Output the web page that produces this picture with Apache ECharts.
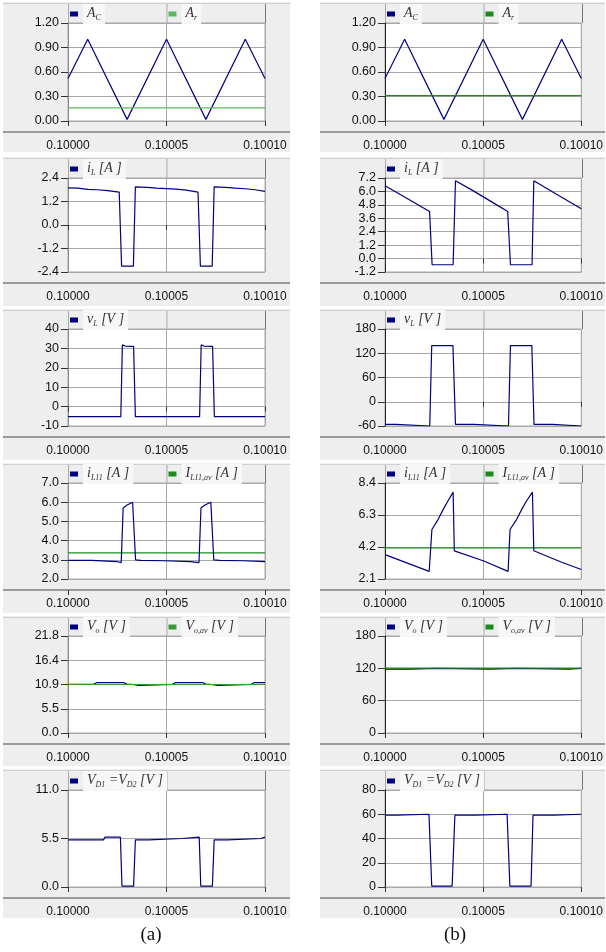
<!DOCTYPE html>
<html><head><meta charset="utf-8">
<script src="https://cdn.jsdelivr.net/npm/echarts/dist/echarts.min.js"></script>
<style>html,body{margin:0;padding:0;background:#fff;}#c{width:606px;height:952px;}</style>
</head><body><div id="c"></div>
<script>
// ---- x axis: time in µs after 0.1 s ----
const xTickLabels = ['0.10000','0.10005','0.10010'];

// ---- y tick labels per panel ----
const yTicks_a = [
  ['0.00','0.30','0.60','0.90','1.20'],
  ['-2.4','-1.2','0.0','1.2','2.4'],
  ['-10','0','10','20','30','40'],
  ['2.0','3.0','4.0','5.0','6.0','7.0'],
  ['0.0','5.5','10.9','16.4','21.8'],
  ['0.0','5.5','11.0']
];
const yTicks_b = [
  ['0.00','0.30','0.60','0.90','1.20'],
  ['-1.2','0.0','1.2','2.4','3.6','4.8','6.0','7.2'],
  ['-60','0','60','120','180'],
  ['2.1','4.2','6.3','8.4'],
  ['0','60','120','180'],
  ['0','20','40','60','80']
];

// ---- column (a) data ----
const t_AC_a = [0,10,30,50,70,90,100];
const AC_a   = [0.52,1.00,0.02,1.00,0.02,1.00,0.52];
const t_Ar_a = [0,100];
const Ar_a   = [0.16,0.16];
const t_iL_a = [0,5,10,15,20,26,27.2,33.2,34.2,40,45,50,55,60,66,67.2,73.2,74.2,80,85,90,95,100];
const iL_a   = [1.90,1.88,1.82,1.80,1.76,1.68,-2.1,-2.1,1.95,1.92,1.88,1.86,1.83,1.78,1.68,-2.1,-2.1,1.95,1.92,1.88,1.85,1.80,1.72];
const t_vL_a = [0,26.8,27.6,29,33.3,34.2,66.8,67.6,69,73.4,74.3,100];
const vL_a   = [-5.2,-5.2,31.8,31.2,31,-5.2,-5.2,31.8,31.2,31,-5.2,-5.2];
const t_iL11_a = [0,12,12.8,25,25.5,27,28,30,32.8,34.3,37,49,49.8,62,62.5,66.5,67.5,69.5,72.5,74,77,89,89.8,100];
const iL11_a   = [2.97,2.97,2.9,2.9,2.85,2.85,5.7,5.85,6.0,3.0,2.97,2.95,2.9,2.9,2.85,2.85,5.7,5.85,6.0,3.0,2.97,2.95,2.9,2.9];
const t_IL11av_a = [0,100];
const IL11av_a   = [3.36,3.36];
const t_Vo_a = [0,13,14.5,28.5,30,32,33,36,37,53,54.5,68.5,70,72,73,76,77,93,94.5,100];
const Vo_a   = [10.95,10.95,11.3,11.3,10.95,10.95,10.7,10.7,10.95,10.95,11.3,11.3,10.95,10.95,10.7,10.7,10.95,10.95,11.3,11.3];
const t_Voav_a = [0,100];
const Voav_a   = [10.9,10.9];
const t_VD_a = [0,18,18.8,26.6,27.4,33.3,34.2,41,41.8,58,58.8,66.6,67.4,73.3,74.2,81,81.8,98,99,100];
const VD_a   = [5.35,5.35,5.65,5.65,0.1,0.1,5.35,5.35,5.5,5.5,5.65,5.65,0.1,0.1,5.35,5.35,5.5,5.5,5.65,5.65];

// ---- column (b) data ----
const t_AC_b = [0,10,30,50,70,90,100];
const AC_b   = [0.52,1.00,0.02,1.00,0.02,1.00,0.52];
const t_Ar_b = [0,100];
const Ar_b   = [0.31,0.31];
const t_iL_b = [0,10,22.7,24,34.7,35.9,45,55,62.5,63.9,74.9,75.8,85,100];
const iL_b   = [6.5,5.5,4.2,-0.55,-0.55,6.95,6.05,5.0,4.2,-0.55,-0.55,6.95,6.0,4.45];
const t_vL_b = [0,5.5,6.5,22.8,23.8,34.6,35.9,45.3,46.3,62.9,63.9,74.8,75.9,85.3,86.3,100];
const vL_b   = [-56,-56,-60,-60,139,139,-56,-56,-60,-60,139,139,-56,-56,-60,-60];
const t_iL11_b = [0,22.5,23.9,27,30,32,34.7,35.3,50,62.7,63.7,67,70,72,75.1,75.8,90,100];
const iL11_b   = [3.7,2.6,5.35,6.0,6.75,7.2,7.8,3.95,3.3,2.6,5.35,6.0,6.75,7.2,7.8,3.95,3.2,2.72];
const t_IL11av_b = [0,100];
const IL11av_b   = [4.14,4.14];
const t_Vo_b = [0,13.5,14.5,26,27,53.5,54.5,66.5,67.5,93.5,94.5,100];
const Vo_b   = [118.5,118.5,120,120,118.5,118.5,120,120,118.5,118.5,120,120];
const t_Voav_b = [0,100];
const Voav_b   = [120.3,120.3];
const t_VD_b = [0,6,6.8,22.4,23.8,34.2,35.6,46,46.8,62.2,63.6,74.4,75.4,86,86.8,100];
const VD_b   = [59.2,59.2,60,60,0.8,0.8,59.2,59.2,60,60,0.8,0.8,59.2,59.2,60,60];

// ---- layout (styles only) ----
const COL = [
  {left:68, width:197, panelX:3, panelW:287, axisColor:'#8a8a8a'},
  {left:385, width:197, panelX:320, panelW:285, axisColor:'#222'}
];
const ROW = [
  {panelTop:2, panelBot:152, top:23, h:98},
  {panelTop:157, panelBot:306, top:178, h:94},
  {panelTop:309, panelBot:460, top:329, h:97},
  {panelTop:463, panelBot:613, top:483, h:96},
  {panelTop:616, panelBot:766, top:636, h:97},
  {panelTop:769, panelBot:918, top:790, h:97}
];
const X_OFFSET = 11;
const NAVY = '#000080', GREEN = '#1e8a1e', LGREEN = '#5cb85c';

const labelRich = {
  'A_C': '{m|A}{s|C}',
  'A_r': '{m|A}{s|r}',
  'i_L': '{m|i}{s|L}{m| [A ]}',
  'v_L': '{m|v}{s|L}{m| [V ]}',
  'i_L11': '{m|i}{s|L11}{m| [A ]}',
  'I_L11av': '{m|I}{s|L11,av}{m| [A ]}',
  'V_o': '{m|V}{s|o}{m| [V ]}',
  'V_oav': '{m|V}{s|o,av}{m| [V ]}',
  'V_D': '{m|V}{s|D1}{m| =V}{s|D2}{m| [V ]}'
};

// [key, col, row, t, v, color, legendSlot]
const seriesSpec = [
  ['A_C',0,0,t_AC_a,AC_a,NAVY,0], ['A_r',0,0,t_Ar_a,Ar_a,LGREEN,1],
  ['i_L',0,1,t_iL_a,iL_a,NAVY,0],
  ['v_L',0,2,t_vL_a,vL_a,NAVY,0],
  ['I_L11av',0,3,t_IL11av_a,IL11av_a,GREEN,1], ['i_L11',0,3,t_iL11_a,iL11_a,NAVY,0],
  ['V_o',0,4,t_Vo_a,Vo_a,NAVY,0], ['V_oav',0,4,t_Voav_a,Voav_a,'#3a9a3a',1],
  ['V_D',0,5,t_VD_a,VD_a,NAVY,0],
  ['A_C',1,0,t_AC_b,AC_b,NAVY,0], ['A_r',1,0,t_Ar_b,Ar_b,GREEN,1],
  ['i_L',1,1,t_iL_b,iL_b,NAVY,0],
  ['v_L',1,2,t_vL_b,vL_b,NAVY,0],
  ['I_L11av',1,3,t_IL11av_b,IL11av_b,GREEN,1], ['i_L11',1,3,t_iL11_b,iL11_b,NAVY,0],
  ['V_o',1,4,t_Vo_b,Vo_b,NAVY,0], ['V_oav',1,4,t_Voav_b,Voav_b,GREEN,1],
  ['V_D',1,5,t_VD_b,VD_b,NAVY,0]
];

const grids=[], xAxes=[], yAxes=[], series=[], legends=[], gfx=[];
const richStyles = {
  m:{fontFamily:'Liberation Serif', fontStyle:'italic', fontSize:14, color:'#333', lineHeight:18, verticalAlign:'middle'},
  s:{fontFamily:'Liberation Serif', fontStyle:'italic', fontSize:8, color:'#333', lineHeight:8, verticalAlign:'bottom'}
};

for (let r=0;r<6;r++){
  for (let c=0;c<2;c++){
    const C=COL[c], R=ROW[r];
    const ticks = (c===0?yTicks_a:yTicks_b)[r];
    const ymin = parseFloat(ticks[0]), ymax = parseFloat(ticks[ticks.length-1]);
    const yint = Math.round((ymax-ymin)/(ticks.length-1)*1e6)/1e6;
    grids.push({left:C.left, top:R.top, width:C.width, height:R.h, show:true,
      backgroundColor:'#fff', borderColor:'#a8a8a8', borderWidth:1});
    const gi = grids.length-1;
    xAxes.push({gridIndex:gi, type:'value', min:0, max:100, interval:50, offset:X_OFFSET,
      axisLine:{show:false}, axisTick:{show:true, length:5, lineStyle:{color:'#333'}},
      axisLabel:{formatter:v=>xTickLabels[Math.round(v/50)], fontSize:12, color:'#111',
        fontFamily:'Liberation Sans', margin:8},
      splitLine:{show:true, lineStyle:{color:'#a8a8a8', width:1}}});
    yAxes.push({gridIndex:gi, type:'value', min:ymin, max:ymax, interval:yint,
      axisLine:{show:true, lineStyle:{color:C.axisColor}},
      axisTick:{show:true, length:7, lineStyle:{color:'#333'}},
      axisLabel:{formatter:v=>ticks[Math.round((v-ymin)/yint)], fontSize:12.5, color:'#111',
        fontFamily:'Liberation Sans', margin:9},
      splitLine:{show:true, lineStyle:{color:'#a8a8a8', width:1}}});
    gfx.push({type:'rect', z:-10, shape:{x:C.panelX, y:R.panelTop, width:C.panelW, height:R.panelBot-R.panelTop},
      style:{fill:'#eeeeee'}});
    const ySep = R.top+R.h+X_OFFSET;
    gfx.push({type:'line', z:-5, shape:{x1:C.panelX, y1:ySep, x2:C.panelX+C.panelW, y2:ySep},
      style:{stroke:'#9a9a9a', lineWidth:2}});
    [C.left, C.left+C.width/2, C.left+C.width].forEach((x,k)=>{
      gfx.push({type:'line', z:-5, shape:{x1:x+0.5, y1:R.panelTop+1, x2:x+0.5, y2:R.top},
        style:{stroke:k===2?'#777':'#a8a8a8', lineWidth:1}});
    });
    gfx.push({type:'line', z:-5, shape:{x1:C.panelX, y1:R.panelTop+1.5, x2:C.panelX+C.panelW, y2:R.panelTop+1.5},
      style:{stroke:'#cfcfcf', lineWidth:1}});
  }
}

seriesSpec.forEach(([key,c,r,t,v,color,slot])=>{
  const idx = r*2+c;
  const name = (c===0?'a:':'b:')+key;
  series.push({name, type:'line', xAxisIndex:idx, yAxisIndex:idx,
    data:t.map((x,i)=>[x,v[i]]), showSymbol:false, symbol:'none',
    lineStyle:{color, width:1.2}, itemStyle:{color}, animation:false});
  const C=COL[c], R=ROW[r];
  legends.push({data:[name], left:C.left+2+slot*C.width/2, top:R.top-19, padding:0,
    icon:'rect', itemWidth:8, itemHeight:5, selectedMode:false,
    formatter:()=>labelRich[key],
    textStyle:{backgroundColor:'#f7f7f7', padding:[0,4,2,4], rich:richStyles}});
});

gfx.push({type:'text', x:151, y:935, style:{text:'(a)', textAlign:'center', textVerticalAlign:'middle',
  font:'19px "Liberation Serif"', fill:'#111'}});
gfx.push({type:'text', x:455, y:935, style:{text:'(b)', textAlign:'center', textVerticalAlign:'middle',
  font:'19px "Liberation Serif"', fill:'#111'}});

const chart = echarts.init(document.getElementById('c'), null, {renderer:'canvas'});
chart.setOption({
  backgroundColor:'#fff', animation:false,
  grid:grids, xAxis:xAxes, yAxis:yAxes, series, legend:legends,
  graphic:{elements:gfx}
});
</script></body></html>
